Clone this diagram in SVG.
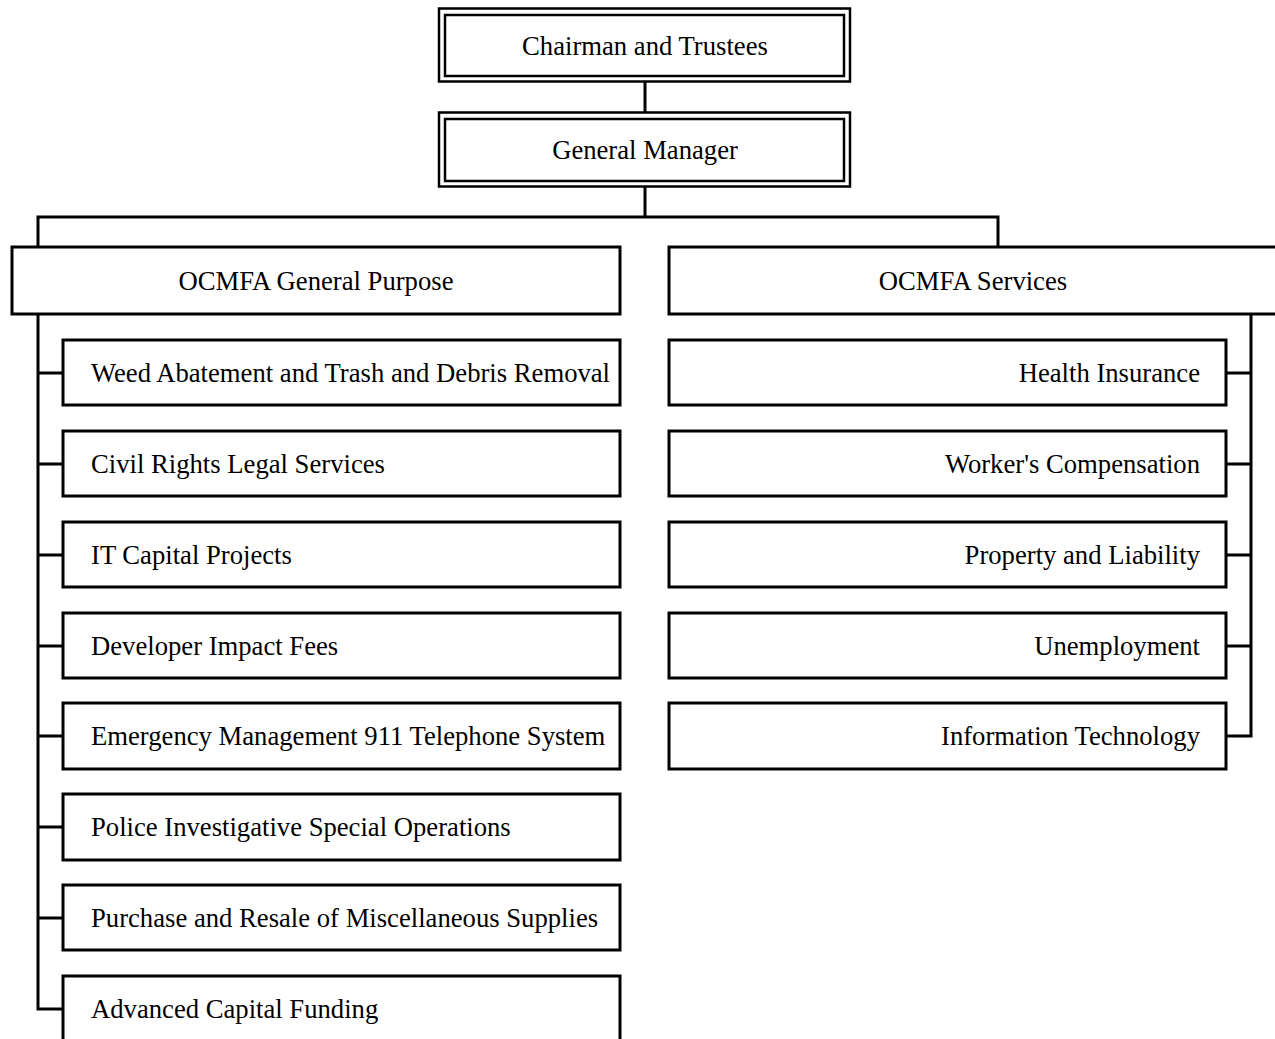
<svg xmlns="http://www.w3.org/2000/svg" width="1275" height="1039" viewBox="0 0 1275 1039">
<style>
.box{fill:#fff;stroke:#000;stroke-width:3}
.dbl{fill:none;stroke:#000;stroke-width:2.5}
.ln{fill:none;stroke:#000;stroke-width:3}
text{font-family:"Liberation Serif","Times New Roman",serif;font-size:26.67px;fill:#000}
.c{text-anchor:middle}
.r{text-anchor:end}
</style>
<rect width="1275" height="1039" fill="#fff"/>
<g id="connectors">
<path class="ln" d="M645 82V112"/>
<path class="ln" d="M645 187V217"/>
<path class="ln" d="M38 247V217H998V247"/>
<path class="ln" d="M38 315V1009H63"/>
<path class="ln" d="M38 373H63M38 464H63M38 555H63M38 646H63M38 736H63M38 827H63M38 918H63"/>
<path class="ln" d="M1251 315V736H1227"/>
<path class="ln" d="M1227 373H1251M1227 464H1251M1227 555H1251M1227 646H1251"/>
</g>
<g id="chairman">
<rect class="dbl" x="439" y="8.5" width="411" height="73"/>
<rect class="dbl" x="445" y="15" width="399" height="61"/>
<text class="c" x="645" y="55">Chairman and Trustees</text>
</g>
<g id="general-manager">
<rect class="dbl" x="439" y="112.5" width="411" height="74"/>
<rect class="dbl" x="445" y="119" width="399" height="62"/>
<text class="c" x="645" y="159">General Manager</text>
</g>
<g id="general-purpose">
<rect class="box" x="12" y="247" width="608" height="67"/>
<text class="c" x="316" y="290">OCMFA General Purpose</text>
</g>
<g id="services">
<rect class="box" x="669" y="247" width="610" height="67"/>
<text class="c" x="973" y="290">OCMFA Services</text>
</g>
<g id="weed"><rect class="box" x="63" y="340" width="557" height="65"/><text x="91" y="382">Weed Abatement and Trash and Debris Removal</text></g>
<g id="civil"><rect class="box" x="63" y="431" width="557" height="65"/><text x="91" y="473">Civil Rights Legal Services</text></g>
<g id="it-capital"><rect class="box" x="63" y="522" width="557" height="65"/><text x="91" y="564">IT Capital Projects</text></g>
<g id="developer"><rect class="box" x="63" y="613" width="557" height="65"/><text x="91" y="655">Developer Impact Fees</text></g>
<g id="emergency"><rect class="box" x="63" y="703" width="557" height="66"/><text x="91" y="745">Emergency Management 911 Telephone System</text></g>
<g id="police"><rect class="box" x="63" y="794" width="557" height="66"/><text x="91" y="836">Police Investigative Special Operations</text></g>
<g id="purchase"><rect class="box" x="63" y="885" width="557" height="65"/><text x="91" y="927">Purchase and Resale of Miscellaneous Supplies</text></g>
<g id="advanced"><rect class="box" x="63" y="976" width="557" height="80"/><text x="91" y="1018">Advanced Capital Funding</text></g>
<g id="health"><rect class="box" x="669" y="340" width="557" height="65"/><text class="r" x="1200" y="382">Health Insurance</text></g>
<g id="workers"><rect class="box" x="669" y="431" width="557" height="65"/><text class="r" x="1200" y="473">Worker's Compensation</text></g>
<g id="property"><rect class="box" x="669" y="522" width="557" height="65"/><text class="r" x="1200" y="564">Property and Liability</text></g>
<g id="unemployment"><rect class="box" x="669" y="613" width="557" height="65"/><text class="r" x="1200" y="655">Unemployment</text></g>
<g id="info-tech"><rect class="box" x="669" y="703" width="557" height="66"/><text class="r" x="1200" y="745">Information Technology</text></g>
</svg>
